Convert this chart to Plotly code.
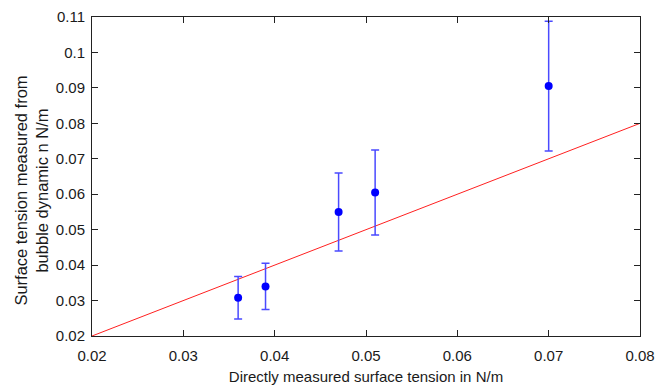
import plotly.graph_objects as go

x_meas = [0.036, 0.039, 0.047, 0.051, 0.070]
y_bubble = [0.0308, 0.034, 0.055, 0.0605, 0.0905]
y_err = [0.006, 0.0065, 0.011, 0.012, 0.0183]
line_x = [0.02, 0.08]
line_y = [0.02, 0.08]
x_ticks = [0.02, 0.03, 0.04, 0.05, 0.06, 0.07, 0.08]
y_ticks = [0.02, 0.03, 0.04, 0.05, 0.06, 0.07, 0.08, 0.09, 0.1, 0.11]
x_title = "Directly measured surface tension in N/m"
y_title = "Surface tension measured from<br>bubble dynamic n N/m"

fig = go.Figure()
fig.add_trace(go.Scatter(x=line_x, y=line_y, mode="lines",
                         line=dict(color="#ff2020", width=1), showlegend=False))
fig.add_trace(go.Scatter(x=x_meas, y=y_bubble, mode="markers",
                         marker=dict(color="#0000ff", size=8),
                         error_y=dict(type="data", array=y_err, visible=True,
                                      color="#4a4aff", thickness=1.5, width=4),
                         showlegend=False))

fam = "Liberation Sans, Arial, Helvetica, sans-serif"
font = dict(family=fam, size=15, color="#1a1a1a")
axis_common = dict(showgrid=False, zeroline=False, showline=True, linecolor="#222",
                   linewidth=1, mirror="ticks", ticks="inside", ticklen=6,
                   tickcolor="#222", tickfont=font, automargin=False)
fig.update_xaxes(range=[0.02, 0.08], tickvals=x_ticks,
                 ticktext=[f"{v:g}" for v in x_ticks], ticklabelstandoff=6,
                 title=dict(text=x_title, font=font, standoff=8),
                 **axis_common)
fig.update_yaxes(range=[0.02, 0.11], tickvals=y_ticks,
                 ticktext=[f"{v:g}" for v in y_ticks], ticklabelstandoff=3,
                 **axis_common)
fig.add_annotation(text=y_title, xref="paper", yref="paper", x=-0.110, y=0.455,
                   xanchor="center", yanchor="middle", textangle=-90,
                   showarrow=False, font=dict(family=fam, size=16.5, color="#1a1a1a"))
fig.update_layout(width=669, height=388, margin=dict(l=92, r=29, t=17, b=52),
                  plot_bgcolor="white", paper_bgcolor="white", font=font)
fig.write_html("out.html", config={"displayModeBar": False},
               post_script="document.body.style.margin='0';")
